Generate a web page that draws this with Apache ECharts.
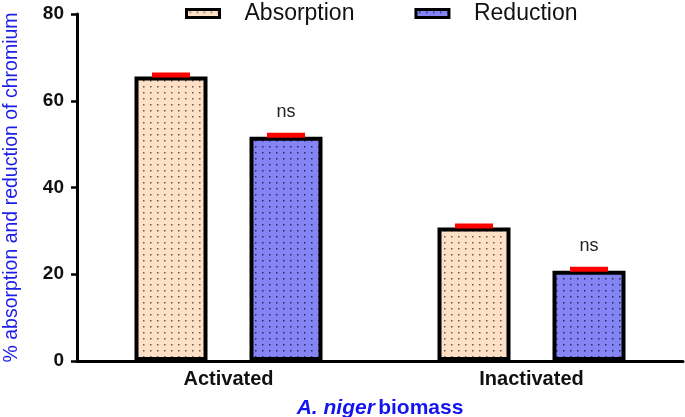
<!DOCTYPE html>
<html>
<head>
<meta charset="utf-8">
<script src="https://cdn.jsdelivr.net/npm/echarts@6/dist/echarts.min.js"></script>
<style>
html,body{margin:0;padding:0;background:#fff;}
#chart{width:685px;height:417px;}
</style>
</head>
<body>
<div id="chart"></div>
<script>
// ---- data ----
const categories = ['Activated', 'Inactivated'];
const absorption = [65.6, 30.8];
const reduction = [51.7, 20.8];
const significance = ['ns', 'ns'];
const yTicks = [0, 20, 40, 60, 80];

function makePattern(bg, dot) {
  const c = document.createElement('canvas');
  c.width = 7; c.height = 6;
  const ctx = c.getContext('2d');
  ctx.fillStyle = bg; ctx.fillRect(0, 0, 7, 6);
  ctx.fillStyle = dot; ctx.fillRect(3, 2, 1.5, 1.5);
  return c;
}
const absFill = { image: makePattern('#fde0c6', '#6b5a4a'), repeat: 'repeat' };
const redFill = { image: makePattern('#8484f4', '#2a2a60'), repeat: 'repeat' };

const BAR_W = 73, BAR_GAP = 42;
const OFFSET = (BAR_W + BAR_GAP) / 2;

const errData = [];
categories.forEach((c, i) => {
  errData.push([i, absorption[i], -1]);
  errData.push([i, reduction[i], 1]);
});

const chart = echarts.init(document.getElementById('chart'));
const font = 'Liberation Sans, Arial, sans-serif';
chart.setOption({
  animation: false,
  textStyle: { fontFamily: font },
  legend: {
    left: 180, top: -3,
    icon: 'rect',
    itemWidth: 33, itemHeight: 8, itemGap: 60,
    itemStyle: { borderColor: '#000', borderWidth: 3 },
    data: ['Absorption', 'Reduction'],
    textStyle: { fontSize: 23, color: '#111', padding: [0, 0, 0, 20], fontFamily: font }
  },
  grid: { left: 77, right: 2, top: 14, bottom: 56, containLabel: false, outerBoundsMode: 'none' },
  xAxis: {
    type: 'category',
    data: categories,
    axisLine: { lineStyle: { color: '#000', width: 3 } },
    axisTick: { alignWithLabel: true, length: 6, lineStyle: { color: '#000', width: 2.5 } },
    axisLabel: { fontSize: 20, fontWeight: 'bold', color: '#111', margin: 8, fontFamily: font },
    name: '{i|A. niger} {b|biomass}',
    nameLocation: 'middle',
    nameGap: 37,
    nameTextStyle: {
      rich: {
        i: { fontSize: 21, fontWeight: 'bold', fontStyle: 'italic', color: '#1414f0', fontFamily: font },
        b: { fontSize: 21, fontWeight: 'bold', color: '#1414f0', fontFamily: font }
      }
    }
  },
  yAxis: {
    type: 'value',
    min: yTicks[0], max: yTicks[yTicks.length - 1], interval: 20,
    splitLine: { show: false },
    axisLine: { show: true, lineStyle: { color: '#000', width: 3 } },
    axisTick: { show: true, length: 6, lineStyle: { color: '#000', width: 2.5 } },
    axisLabel: { fontSize: 19, fontWeight: 'bold', color: '#111', margin: 13, fontFamily: font },
    name: '% absorption and reduction of chromium',
    nameLocation: 'middle',
    nameGap: 55,
    nameTextStyle: { fontSize: 19.5, color: '#1c1ce8', fontFamily: font }
  },
  series: [
    {
      name: 'Absorption', type: 'bar', data: absorption,
      barWidth: BAR_W, barGap: (BAR_GAP / BAR_W * 100) + '%',
      itemStyle: { color: absFill, borderColor: '#000', borderWidth: 4 }
    },
    {
      name: 'Reduction', type: 'bar', data: reduction,
      barWidth: BAR_W,
      itemStyle: { color: redFill, borderColor: '#000', borderWidth: 4 },
      label: {
        show: true, position: 'top', distance: 16,
        formatter: p => significance[p.dataIndex],
        fontSize: 18, color: '#222', fontFamily: font
      }
    },
    {
      type: 'custom', data: errData, z: 10, silent: true,
      renderItem: function (params, api) {
        const c = api.coord([api.value(0), api.value(1)]);
        const side = api.value(2);
        return {
          type: 'rect',
          shape: { x: c[0] + side * OFFSET - 19, y: c[1] - 4, width: 38, height: 5 },
          style: { fill: '#ff0000' }
        };
      }
    }
  ]
});
</script>
</body>
</html>
